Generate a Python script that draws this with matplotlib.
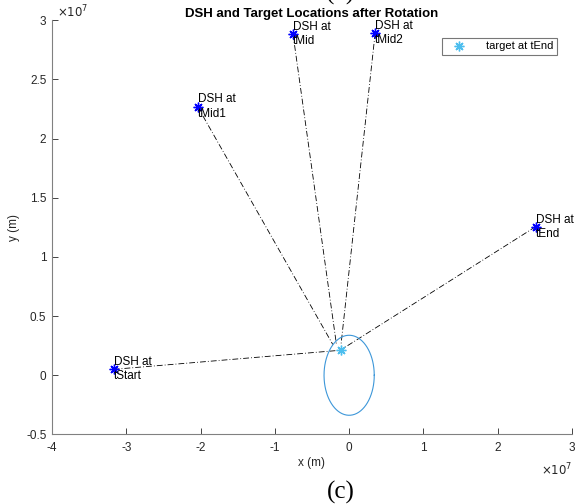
import numpy as np
import matplotlib
matplotlib.use("Agg")
import matplotlib.pyplot as plt
from matplotlib.ticker import FuncFormatter

plt.rcParams['font.family'] = ['Liberation Sans', 'DejaVu Sans']
plt.rcParams['axes.unicode_minus'] = False

# DSH positions (m)
dsh_names = ['tStart', 'tMid1', 'tMid', 'tMid2', 'tEnd']
dsh_x = [-3.17e7, -2.04e7, -0.755e7, 0.35e7, 2.51e7]
dsh_y = [0.05e7, 2.27e7, 2.88e7, 2.89e7, 1.255e7]
# target position at each time (m)
tgt_x = [-0.14e7, -0.22e7, -0.17e7, -0.11e7, -0.11e7]
tgt_y = [0.21e7, 0.26e7, 0.256e7, 0.256e7, 0.215e7]
# earth outline
earth_r = 0.338e7

xticks = [-4e7, -3e7, -2e7, -1e7, 0, 1e7, 2e7, 3e7]
yticks = [-0.5e7, 0, 0.5e7, 1e7, 1.5e7, 2e7, 2.5e7, 3e7]

fig = plt.figure(figsize=(5.75, 5.04), dpi=100)
ax = fig.add_axes([0.0904, 0.138, 0.9044, 0.822])

axcol = '#262626'
for i in range(len(dsh_x)):
    ax.plot([dsh_x[i], tgt_x[i]], [dsh_y[i], tgt_y[i]], color='black',
            linestyle='-.', linewidth=0.6, dashes=(7, 2.5, 1, 2.5))

th = np.linspace(0, 2 * np.pi, 300)
ax.plot(earth_r * np.cos(th), earth_r * np.sin(th), color='#3d97d9', linewidth=0.8)

ax.plot(dsh_x, dsh_y, linestyle='none', marker=(8, 2, 0), color='#0000ff',
        markersize=7, markeredgewidth=1.0)
ax.plot(tgt_x[-1], tgt_y[-1], linestyle='none', marker=(8, 2, 0),
        color='#4dbeee', markersize=7, markeredgewidth=1.0, label='target at tEnd')

for i in range(len(dsh_x)):
    ax.text(dsh_x[i], dsh_y[i], 'DSH at\n' + dsh_names[i], ha='left', va='center',
            fontsize=8.5, linespacing=1.25, color='black')

ax.set_xlim(-4e7, 3e7)
ax.set_ylim(-0.5e7, 3e7)
ax.set_xticks(xticks)
ax.set_yticks(yticks)
fmt = FuncFormatter(lambda v, p: '%g' % (v / 1e7))
ax.xaxis.set_major_formatter(fmt)
ax.yaxis.set_major_formatter(fmt)
ax.tick_params(direction='in', length=4, width=0.6, colors=axcol, labelsize=8.5, pad=4)
ax.tick_params(axis='x', pad=5.5)
for s in ['top', 'right']:
    ax.spines[s].set_visible(False)
for s in ['left', 'bottom']:
    ax.spines[s].set_color('#808080')
    ax.spines[s].set_linewidth(0.8)

ax.set_xlabel('x (m)', fontsize=8.5, color=axcol, labelpad=2)
ax.set_ylabel('y (m)', fontsize=8.5, color=axcol, labelpad=4)
ax.set_title('DSH and Target Locations after Rotation', fontsize=9.5,
             fontweight='bold', pad=1)

ax.text(0.01, 1.0, r'$\times10^{7}$', transform=ax.transAxes, fontsize=8.5,
        color=axcol, ha='left', va='bottom')
ax.text(1.0, -0.065, r'$\times10^{7}$', transform=ax.transAxes, fontsize=8.5,
        color=axcol, ha='right', va='top')

leg = ax.legend(loc='upper right', bbox_to_anchor=(0.975, 0.962), fontsize=8,
                frameon=True, fancybox=False, borderpad=0.3, handlelength=2.6,
                handletextpad=1.1, borderaxespad=0.2)
leg.get_frame().set_edgecolor('#555555')
leg.get_frame().set_linewidth(0.8)

fig.text(0.593, 0.022, '(c)', fontsize=18, family='Liberation Serif',
         ha='center', va='center')
fig.text(0.593, 1 - 5 / 504, '(b)', fontsize=18, family='Liberation Serif',
         ha='center', va='bottom')

fig.savefig('out.png', dpi=100)
